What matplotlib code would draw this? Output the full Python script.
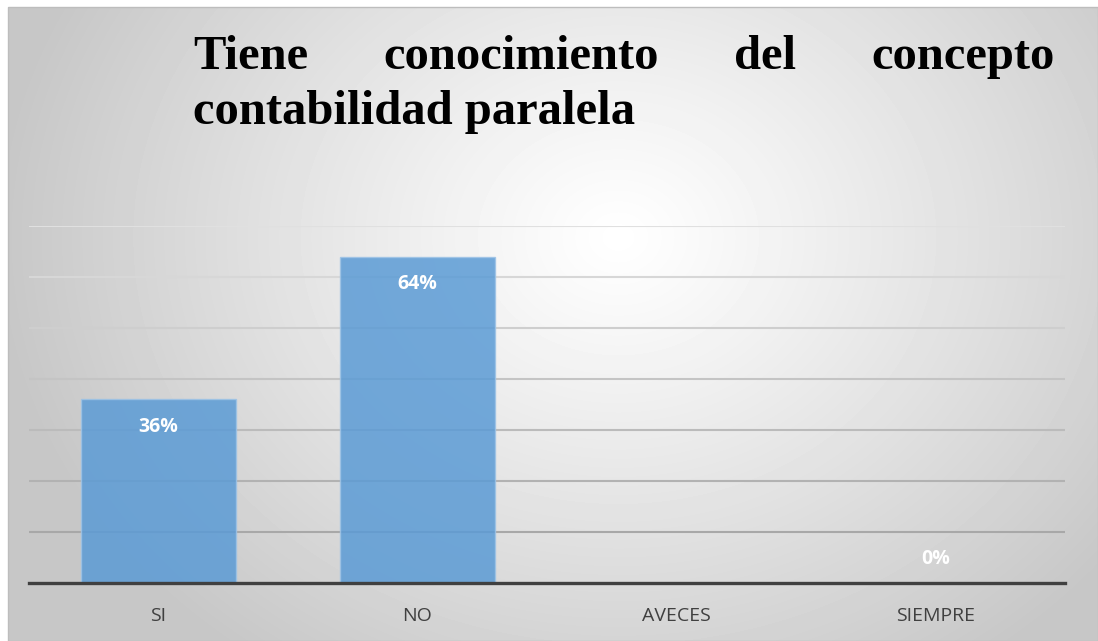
import numpy as np
import matplotlib
matplotlib.use("Agg")
import matplotlib.pyplot as plt
from matplotlib.patches import Rectangle

# datos del grafico
categorias = ["SI", "NO", "AVECES", "SIEMPRE"]
valores = [0.36, 0.64, np.nan, 0.0]
etiquetas = ["36%", "64%", "", "0%"]
titulo_linea1 = ["Tiene", "conocimiento", "del", "concepto"]
titulo_linea2 = "contabilidad paralela"

W, H = 1098, 641
fig = plt.figure(figsize=(W / 100, H / 100), dpi=100)
fig.patch.set_facecolor("white")

# 1. fondo con degradado radial
ax_bg = fig.add_axes([8 / W, 0, 1 - 8 / W, 1 - 7 / H])
yy, xx = np.mgrid[0:634, 0:1090]
cx, cy = 610, 230
r = np.sqrt(((xx - cx) / 620.0) ** 2 + ((yy - cy) / 520.0) ** 2)
r = np.clip(r, 0, 1)
shade = 1.0 - 0.22 * r ** 1.1
ax_bg.imshow(shade, cmap="gray", vmin=0, vmax=1, aspect="auto",
             interpolation="bilinear")
ax_bg.set_axis_off()
fig.patches.append(Rectangle((8 / W, 0), 1 - 8 / W, 1 - 7 / H,
                             transform=fig.transFigure, fill=False,
                             edgecolor="#bdbdbd", linewidth=1.0, zorder=5))

# 2. area del grafico
ax = fig.add_axes([29 / W, (H - 583) / H, (1065 - 29) / W, (583 - 226) / H])
ax.set_facecolor("none")
x = np.arange(len(categorias))
bars = ax.bar(x, valores, width=0.6, color="#5b9bd5", alpha=0.85,
              edgecolor="#9dc3e6", linewidth=1.0, zorder=2)
ax.set_xlim(-0.5, len(categorias) - 0.5)
ax.set_ylim(0, 0.70)

# lineas de cuadricula: mas claras arriba, mas oscuras abajo (como el original)
niveles = np.arange(0.10, 0.71, 0.10)
for nivel in niveles:
    g = 0.66 + 0.22 * (nivel - 0.10) / 0.60
    ax.axhline(nivel, color=(g, g, g), linewidth=1.5, zorder=1)

ax.set_yticks([])
ax.tick_params(axis="x", length=0, pad=17, labelsize=14, labelcolor="#404040")
ax.set_xticks(x)
ax.set_xticklabels(categorias, fontfamily="Open Sans")
for s in ["top", "right", "left"]:
    ax.spines[s].set_visible(False)
ax.spines["bottom"].set_color("#404040")
ax.spines["bottom"].set_linewidth(2.4)
ax.spines["bottom"].set_zorder(4)

# 3. etiquetas de datos
for xi, v, lab in zip(x, valores, etiquetas):
    if not lab:
        continue
    off = -20 if v > 0 else 17
    ax.annotate(lab, (xi, v), xytext=(0, off), textcoords="offset points",
                ha="center", va="center", color="white", fontsize=14,
                fontweight="bold", fontfamily="Open Sans", zorder=6)

# 4. titulo justificado
tfont = dict(fontsize=35, fontweight="bold", fontfamily="Liberation Serif",
             color="black")
y1 = 1 - 69 / H
y2 = 1 - 124 / H
left, right = 193, 1055
words = [fig.text(0, y1, w, va="baseline", ha="left", **tfont)
         for w in titulo_linea1]
fig.canvas.draw()
rend = fig.canvas.get_renderer()
widths = [t.get_window_extent(rend).width for t in words]
gap = (right - left - sum(widths)) / (len(words) - 1)
pos = left
for t, w in zip(words, widths):
    t.set_x(pos / W)
    pos += w + gap
fig.text(left / W, y2, titulo_linea2, va="baseline", ha="left", **tfont)

fig.savefig("out.png", dpi=100)
